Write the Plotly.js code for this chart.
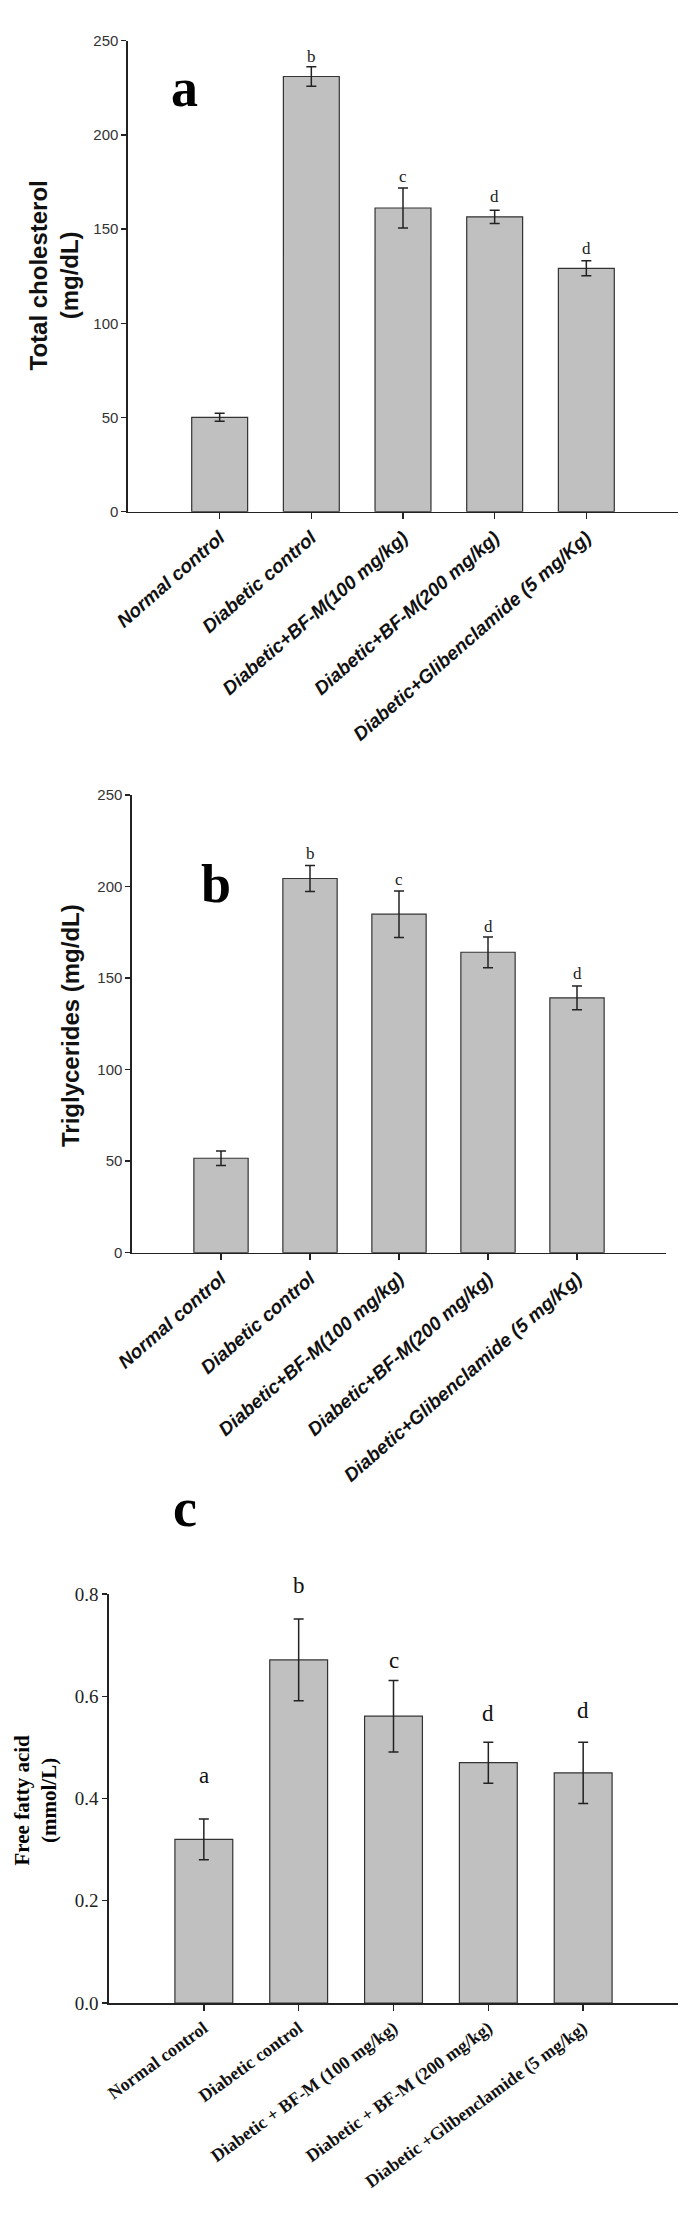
<!DOCTYPE html>
<html>
<head>
<meta charset="utf-8">
<script src="https://cdn.plot.ly/plotly-3.0.1.min.js"></script>
<style>
html, body { margin: 0; padding: 0; background: #ffffff; }
#chart { width: 689px; height: 2214px; }
</style>
</head>
<body>
<div id="chart"></div>
<script>
// ---------- data ----------
var groupsAB = ["Normal control", "Diabetic control", "Diabetic+BF-M(100 mg/kg)", "Diabetic+BF-M(200 mg/kg)", "Diabetic+Glibenclamide (5 mg/Kg)"];
var groupsC = ["Normal control", "Diabetic control", "Diabetic + BF-M (100 mg/kg)", "Diabetic + BF-M (200 mg/kg)", "Diabetic +Glibenclamide (5 mg/kg)"];

var cholMean = [50.1, 231.0, 161.2, 156.5, 129.2];
var cholErr  = [2.1, 5.2, 10.6, 3.5, 4.0];
var cholLetters = ["", "b", "c", "d", "d"];
var cholLetterY = [0, 241.8, 177.7, 167.3, 139.8];

var trigMean = [51.6, 204.4, 184.9, 164.1, 139.2];
var trigErr  = [4.0, 7.1, 12.7, 8.4, 6.5];
var trigLetters = ["", "b", "c", "d", "d"];
var trigLetterY = [0, 218.3, 204.0, 178.0, 152.6];

var ffaMean = [0.32, 0.671, 0.561, 0.470, 0.450];
var ffaErr  = [0.04, 0.08, 0.07, 0.04, 0.06];
var ffaLetters = ["a", "b", "c", "d", "d"];
var ffaLetterY = [0.4455, 0.816, 0.670, 0.566, 0.5725];

var cholTicks = [0, 50, 100, 150, 200, 250];
var trigTicks = [0, 50, 100, 150, 200, 250];
var ffaTicks = [0, 0.2, 0.4, 0.6, 0.8];
var ffaTickText = ["0.0", "0.2", "0.4", "0.6", "0.8"];

// ---------- page geometry ----------
var W = 689, H = 2214;
function px(x) { return x / W; }
function py(y) { return 1 - y / H; }

var BAR_FILL = "#c0c0c0";
var INK = "#222222";
var sans = "Liberation Sans, Arial, sans-serif";
var serif = "Liberation Serif, Times New Roman, serif";

function barTrace(xs, ys, errs, xa, ya, lw) {
  return {
    type: "bar", x: xs, y: ys, xaxis: xa, yaxis: ya, width: 0.61,
    marker: { color: BAR_FILL, line: { color: "#333333", width: lw } },
    error_y: { type: "data", array: errs, visible: true, color: INK, thickness: 1.5, width: 5 },
    hoverinfo: "skip", cliponaxis: false
  };
}

var data = [
  barTrace(groupsAB, cholMean, cholErr, "x", "y", 1.2),
  barTrace(groupsAB, trigMean, trigErr, "x2", "y2", 1.2),
  barTrace(groupsC, ffaMean, ffaErr, "x3", "y3", 1.2)
];

function xAxis(dom, yanchor, font, angle) {
  return {
    domain: dom, anchor: yanchor, type: "category", range: [-1, 5],
    showline: true, linecolor: INK, linewidth: 1.6, mirror: false,
    ticks: "outside", ticklen: 6, tickwidth: 1.4, tickcolor: INK,
    tickangle: angle, tickfont: font, showgrid: false, zeroline: false, fixedrange: true
  };
}
function yAxis(dom, xanchor, rng, tv, tt, font, tlen) {
  var a = {
    domain: dom, anchor: xanchor, range: rng, tickmode: "array", tickvals: tv,
    showline: true, linecolor: INK, linewidth: 1.6,
    ticks: "outside", ticklen: tlen, tickwidth: 1.4, tickcolor: INK,
    tickfont: font, showgrid: false, zeroline: false, fixedrange: true
  };
  if (tt) a.ticktext = tt;
  return a;
}

var xFontAB = { family: sans, size: 19, color: "#111111", weight: "bold", style: "italic" };
var yFontAB = { family: sans, size: 15, color: "#333333" };
var xFontC = { family: serif, size: 18, color: "#111111", weight: "bold" };
var yFontC = { family: serif, size: 19, color: "#222222" };

var ffaRange = [0, 0.8];

var layout = {
  width: W, height: H,
  margin: { l: 0, r: 0, t: 0, b: 0, pad: 0 },
  paper_bgcolor: "#ffffff", plot_bgcolor: "#ffffff",
  showlegend: false,
  xaxis: xAxis([px(128), px(678)], "y", xFontAB, -41),
  yaxis: yAxis([py(511.7), py(40.7)], "x", [0, 250], cholTicks, null, yFontAB, 5),
  xaxis2: xAxis([px(132), px(666)], "y2", xFontAB, -41),
  yaxis2: yAxis([py(1252.7), py(795)], "x2", [0, 250], trigTicks, null, yFontAB, 5),
  xaxis3: xAxis([px(109), px(678)], "y3", xFontC, -36),
  yaxis3: yAxis([py(2003), py(1594)], "x3", ffaRange, ffaTicks, ffaTickText, yFontC, 5),
  annotations: []
};

var ann = layout.annotations;
function letters(groups, labels, ys, xr, yr, font, maxY) {
  for (var i = 0; i < groups.length; i++) {
    if (!labels[i]) continue;
    // place in the y axis' domain frame so letters above the range stay visible
    ann.push({ x: groups[i], y: ys[i] / maxY, xref: xr, yref: yr + " domain", text: labels[i], showarrow: false,
      xanchor: "center", yanchor: "middle", font: font });
  }
}
letters(groupsAB, cholLetters, cholLetterY, "x", "y", { family: serif, size: 17, color: "#222222" }, 250);
letters(groupsAB, trigLetters, trigLetterY, "x2", "y2", { family: serif, size: 17, color: "#222222" }, 250);
letters(groupsC, ffaLetters, ffaLetterY, "x3", "y3", { family: serif, size: 23, color: "#111111" }, ffaRange[1]);

// panel labels
function panel(t, x, y) {
  ann.push({ text: t, x: px(x), y: py(y), xref: "paper", yref: "paper", showarrow: false,
    xanchor: "center", yanchor: "middle",
    font: { family: serif, size: 54, color: "#000000", weight: "bold" } });
}
panel("a", 184, 88);
panel("b", 216, 884);
panel("c", 185, 1508);

// axis titles
function ytitle(t, x, y, font) {
  ann.push({ text: t, x: px(x), y: py(y), xref: "paper", yref: "paper", showarrow: false,
    textangle: -90, xanchor: "center", yanchor: "middle", font: font });
}
ytitle("Total cholesterol<br>(mg/dL)", 53.5, 276, { family: sans, size: 24, color: "#111111", weight: "bold" });
ytitle("Triglycerides (mg/dL)", 70, 1026, { family: sans, size: 24, color: "#111111", weight: "bold" });
ytitle("Free fatty acid<br>(mmol/L)", 34.5, 1800, { family: serif, size: 21, color: "#000000", weight: "bold" });

Plotly.newPlot("chart", data, layout, { staticPlot: true, displayModeBar: false });
</script>
</body>
</html>
